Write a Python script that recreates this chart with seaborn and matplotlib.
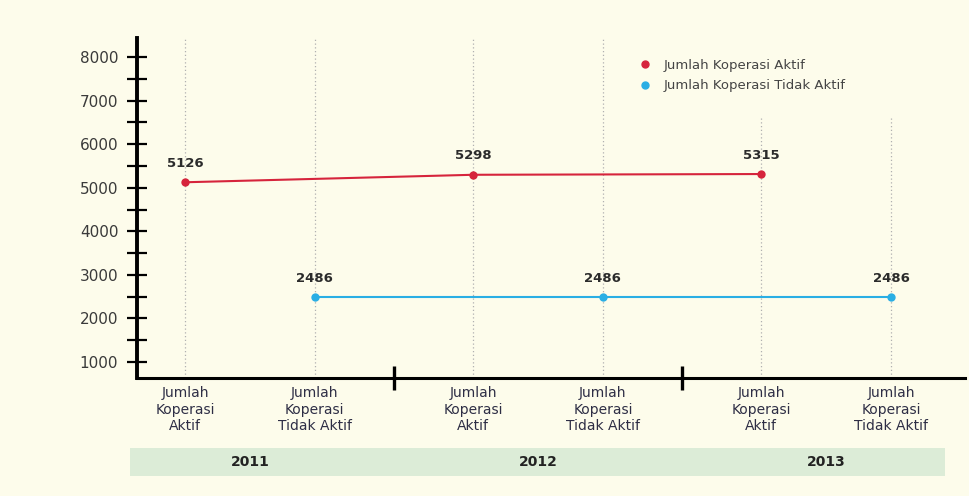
import matplotlib
matplotlib.use("Agg")
import matplotlib.pyplot as plt
import matplotlib.transforms as mtransforms
from matplotlib.lines import Line2D
from matplotlib.patches import Rectangle
import pandas as pd
import seaborn as sns

# data
years = ["2011", "2012", "2013"]
aktif = [5126, 5298, 5315]
tidak_aktif = [2486, 2486, 2486]
label_aktif = "Jumlah Koperasi Aktif"
label_tidak = "Jumlah Koperasi Tidak Aktif"
tick_aktif = "Jumlah\nKoperasi\nAktif"
tick_tidak = "Jumlah\nKoperasi\nTidak Aktif"
y_ticks = [1000, 2000, 3000, 4000, 5000, 6000, 7000, 8000]

# layout: two categories per year, a wider gap between years
group_step = 2.22
pos_aktif = [i * group_step for i in range(len(years))]
pos_tidak = [p + 1 for p in pos_aktif]

df = pd.DataFrame({
    "x": pos_aktif + pos_tidak,
    "jumlah": aktif + tidak_aktif,
    "seri": [label_aktif] * len(aktif) + [label_tidak] * len(tidak_aktif),
})

red = "#d6243c"
blue = "#2aaee4"
bg = "#fdfceb"

sns.set_style("white")
plt.rcParams["font.family"] = ["DejaVu Sans"]

fig = plt.figure(figsize=(9.69, 4.96), dpi=100, facecolor=bg)
ax = fig.add_axes([0.1414, 0.2379, 0.8545, 0.6855])
ax.set_facecolor(bg)

# dotted guides behind each category
for p in pos_aktif + pos_tidak:
    top = 0.765 if p >= pos_aktif[-1] else 1.0
    ax.axvline(p, ymax=top, ls=(0, (1, 2)), color="#b0b0b0", lw=0.9, zorder=0)

sns.lineplot(data=df, x="x", y="jumlah", hue="seri",
             palette={label_aktif: red, label_tidak: blue},
             marker="o", markersize=6, markeredgewidth=0, linewidth=1.5,
             legend=False, ax=ax)

for x, v in zip(df["x"], df["jumlah"]):
    ax.annotate(f"{v}", (x, v), xytext=(0, 9), textcoords="offset points",
                ha="center", va="bottom", fontsize=9.5, fontweight="bold", color="#2b2b2b")

ax.set_xlim(-0.37, 6.01)
ax.set_ylim(630, 8440)
ax.set_xlabel("")
ax.set_ylabel("")

xt = sorted(pos_aktif + pos_tidak)
ax.set_xticks(xt)
ax.set_xticklabels([tick_aktif, tick_tidak] * len(years), fontsize=10, color="#2e2e45")
seps = [(pos_tidak[i] + pos_aktif[i + 1]) / 2 for i in range(len(years) - 1)]
ax.set_xticks(seps, minor=True)
ax.tick_params(axis="x", which="major", bottom=True, length=0, pad=6)
ax.tick_params(axis="x", which="minor", bottom=True, direction="inout", length=17,
               width=2.4, color="black")

ax.set_yticks(y_ticks)
ax.set_yticks([t + 500 for t in y_ticks[:-1]], minor=True)
ax.tick_params(axis="y", which="both", left=True, direction="inout", length=15, width=1.6,
               color="black", labelsize=11, labelcolor="#3a3a3a", pad=6)

sns.despine(ax=ax)
ax.spines["left"].set_linewidth(2.8)
ax.spines["bottom"].set_linewidth(2.2)
ax.spines["left"].set_color("black")
ax.spines["bottom"].set_color("black")

# legend (dots only)
handles = [Line2D([], [], marker="o", ls="none", color=red, markersize=5),
           Line2D([], [], marker="o", ls="none", color=blue, markersize=5)]
fig.legend(handles, [label_aktif, label_tidak], loc="upper left",
           bbox_to_anchor=(0.64, 0.905), frameon=False, fontsize=9.5,
           handletextpad=0.4, labelspacing=0.55, labelcolor="#444444")

# year band under the axis
fig.patches.append(Rectangle((0.134, 0.0403), 0.841, 0.0565, transform=fig.transFigure,
                             facecolor="#dcecd7", edgecolor="none", zorder=-1))
trans = mtransforms.blended_transform_factory(ax.transData, fig.transFigure)
for i, yr in enumerate(years):
    fig.text((pos_aktif[i] + pos_tidak[i]) / 2, 0.068, yr, transform=trans,
             ha="center", va="center", fontsize=10, fontweight="bold",
             color="#222222", zorder=3)

fig.savefig("out.png", dpi=100, facecolor=bg)
